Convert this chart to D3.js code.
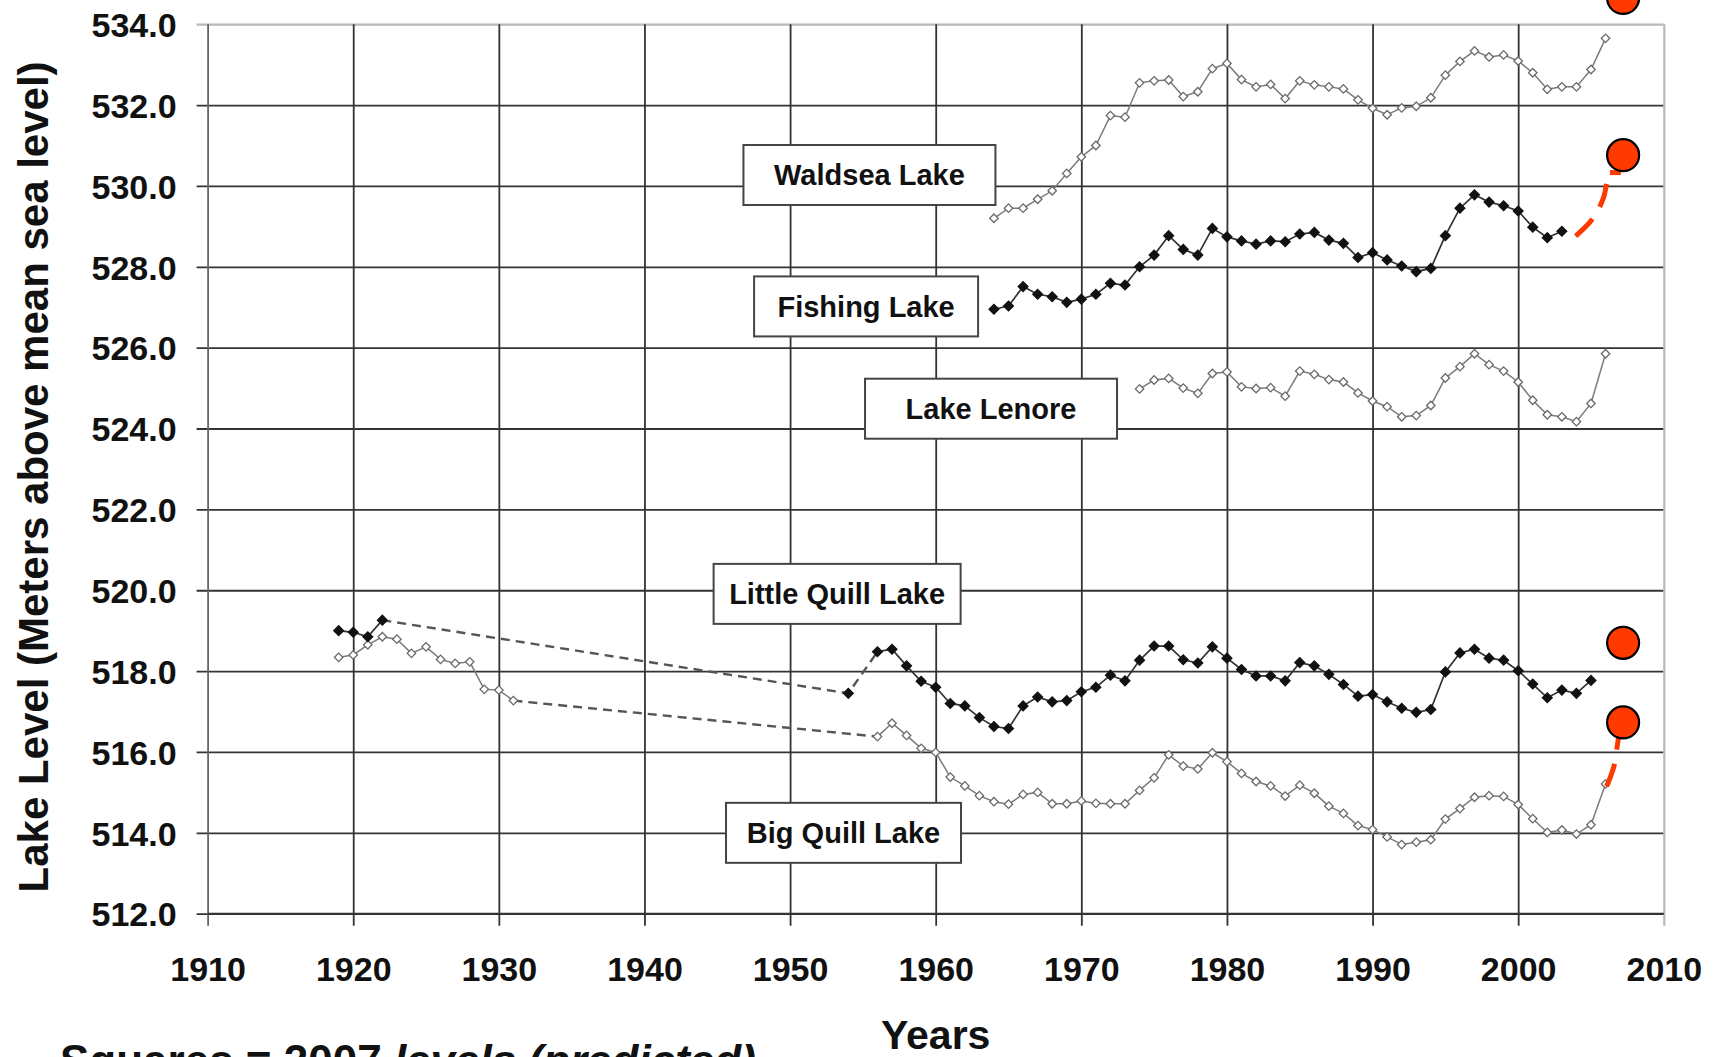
<!DOCTYPE html>
<html>
<head>
<meta charset="utf-8">
<script src="https://cdn.jsdelivr.net/npm/d3@7"></script>
<style>
  body { margin: 0; background: #fff; }
  svg { display: block; font-family: "Liberation Sans", Arial, sans-serif; }
</style>
</head>
<body>
<svg id="chart"></svg>
<script>
// ---- data (lake level, metres above mean sea level) ----
const xTicks = [1910, 1920, 1930, 1940, 1950, 1960, 1970, 1980, 1990, 2000, 2010];
const yTicks = [512, 514, 516, 518, 520, 522, 524, 526, 528, 530, 532, 534];

const waldseaStart = 1964;
const waldseaLevels = [529.2, 529.45, 529.45, 529.67, 529.88, 530.31, 530.72, 531.0, 531.74, 531.7,
  532.55, 532.6, 532.62, 532.21, 532.33, 532.9, 533.03, 532.63, 532.45, 532.51,
  532.16, 532.6, 532.5, 532.45, 532.4, 532.13, 531.92, 531.76, 531.93, 531.97,
  532.18, 532.74, 533.08, 533.34, 533.19, 533.24, 533.09, 532.8, 532.39, 532.45,
  532.45, 532.88, 533.65];

const fishingStart = 1964;
const fishingLevels = [526.95, 527.03, 527.51, 527.32, 527.26, 527.12, 527.2, 527.32, 527.59, 527.55,
  528.0, 528.29, 528.77, 528.43, 528.29, 528.95, 528.74, 528.64, 528.56, 528.64,
  528.62, 528.81, 528.85, 528.66, 528.58, 528.23, 528.35, 528.17, 528.02, 527.88,
  527.96, 528.77, 529.45, 529.78, 529.6, 529.51, 529.38, 528.98, 528.72, 528.88];

const lenoreStart = 1974;
const lenoreLevels = [524.98, 525.2, 525.24, 525.0, 524.87, 525.36, 525.4, 525.03, 524.99, 525.01,
  524.8, 525.42, 525.34, 525.21, 525.15, 524.88, 524.68, 524.54, 524.29, 524.32,
  524.57, 525.25, 525.53, 525.85, 525.58, 525.42, 525.15, 524.7, 524.34, 524.29,
  524.17, 524.62, 525.85];

const littleQuillEarlyStart = 1919;
const littleQuillEarly = [519.0, 518.96, 518.85, 519.26];
const littleQuillGapYear = 1954;
const littleQuillGapLevel = 517.45;
const littleQuillStart = 1956;
const littleQuillLevels = [518.48, 518.54, 518.13, 517.75, 517.6, 517.2, 517.14, 516.85, 516.63, 516.58,
  517.14, 517.36, 517.24, 517.27, 517.49, 517.6, 517.9, 517.76, 518.27, 518.62,
  518.62, 518.28, 518.2, 518.6, 518.32, 518.04, 517.88, 517.88, 517.76, 518.21,
  518.13, 517.92, 517.67, 517.38, 517.42, 517.24, 517.08, 516.98, 517.05, 517.98,
  518.45, 518.54, 518.32, 518.27, 518.01, 517.68, 517.34, 517.53, 517.45, 517.77];

const bigQuillEarlyStart = 1919;
const bigQuillEarly = [518.34, 518.4, 518.65, 518.85, 518.79, 518.44, 518.6, 518.29, 518.19, 518.23,
  517.55, 517.53, 517.27];
const bigQuillStart = 1956;
const bigQuillLevels = [516.38, 516.71, 516.41, 516.09, 515.99, 515.38, 515.16, 514.92, 514.77, 514.71,
  514.95, 515.0, 514.72, 514.72, 514.79, 514.73, 514.72, 514.72, 515.05, 515.36,
  515.93, 515.65, 515.58, 515.98, 515.76, 515.47, 515.27, 515.16, 514.91, 515.18,
  514.98, 514.66, 514.48, 514.18, 514.08, 513.9, 513.71, 513.77, 513.83, 514.34,
  514.6, 514.88, 514.92, 514.9, 514.7, 514.35, 514.01, 514.07, 513.97, 514.2,
  515.21];

// predicted 2007 levels (red dots)
const predictedYear = 2007;
const predictedLakes = ['Waldsea Lake', 'Fishing Lake', 'Little Quill Lake', 'Big Quill Lake'];
const predictedLevels = [534.65, 530.76, 518.7, 516.73];

// red dashed arcs toward the predictions
const fishingArcYears = [2003.95, 2005.1, 2005.85, 2006.15, 2006.3];
const fishingArcLevels = [528.76, 529.18, 529.7, 530.2, 530.33];
const fishingFootYears = [2006.3, 2007.05];
const fishingFootLevels = [530.33, 530.33];
const bigQuillArcYears = [2006.07, 2006.57, 2006.8, 2006.93];
const bigQuillArcLevels = [515.15, 515.64, 516.14, 516.45];

// label boxes (anchor in year / level units)
const labelNames = ['Waldsea Lake', 'Fishing Lake', 'Lake Lenore', 'Little Quill Lake', 'Big Quill Lake'];
const labelYears = [1955.45, 1955.22, 1963.8, 1953.23, 1953.67];
const labelLevels = [530.27, 527.02, 524.49, 519.91, 514.0];

// ---- layout ----
const W = 1722, H = 1057;
const margin = {left: 207.6, right: W - 1663.8, top: 24.2, bottom: H - 913.7};
const plotW = W - margin.left - margin.right;
const plotH = H - margin.top - margin.bottom;
const labelBoxW = [252, 224, 252, 247, 235];
const predictedShift = 3; // dots sit just right of the 2007 line

const svg = d3.select('#chart').attr('width', W).attr('height', H);
svg.append('rect').attr('width', W).attr('height', H).attr('fill', '#fff');

const g = svg.append('g').attr('transform', `translate(${margin.left},${margin.top})`);

const x = d3.scaleLinear().domain([1910, 2010]).range([0, plotW]);
const y = d3.scaleLinear().domain([512, 534]).range([plotH, 0]);

function toPoints(start, levels) {
  return levels.map((v, i) => ({year: start + i, level: v}));
}

// ---- grid / axes ----
let yAxis = d3.axisLeft(y).tickValues(yTicks).tickFormat(d3.format('.1f')).tickSizeOuter(0);
let yAxisG = g.append('g').call(yAxis);
yAxisG.select('.domain').remove();
yAxisG.selectAll('.tick line')
  .attr('x1', -11).attr('x2', plotW)
  .attr('stroke', d => d === 534 ? '#b8b8b8' : '#333')
  .attr('stroke-width', d => d === 534 ? 2.2 : 1.8);
yAxisG.selectAll('.tick text')
  .attr('x', -31).attr('dy', '0.36em')
  .attr('font-size', 34).attr('font-weight', 'bold').attr('fill', '#111')
  .attr('font-family', '"Liberation Sans", Arial, sans-serif');

let xAxis = d3.axisBottom(x).tickValues(xTicks).tickFormat(d3.format('d')).tickSizeOuter(0);
let xAxisG = g.append('g').attr('transform', `translate(0,${plotH})`).call(xAxis);
xAxisG.select('.domain').remove();
xAxisG.selectAll('.tick line')
  .attr('y1', 12).attr('y2', -plotH)
  .attr('stroke', d => d === 2010 ? '#b8b8b8' : (d === 1910 ? '#666' : '#333'))
  .attr('stroke-width', d => d === 2010 ? 2.2 : 1.8);
xAxisG.selectAll('.tick text')
  .attr('y', 67).attr('dy', 0)
  .attr('font-size', 34).attr('font-weight', 'bold').attr('fill', '#111')
  .attr('font-family', '"Liberation Sans", Arial, sans-serif');

// bottom axis line
g.append('line')
  .attr('x1', x(1910)).attr('x2', x(2010))
  .attr('y1', y(512)).attr('y2', y(512))
  .attr('stroke', '#333').attr('stroke-width', 2);

// ---- series ----
const line = d3.line().x(d => x(d.year)).y(d => y(d.level));
const seriesG = g.append('g');

const openStyle = {line: '#7a7a7a', width: 1.5, fill: '#fff', stroke: '#6a6a6a', size: 36};
const filledStyle = {line: '#333', width: 1.7, fill: '#111', stroke: '#111', size: 48};

function drawLine(pts, style, dashed) {
  seriesG.append('path')
    .datum(pts)
    .attr('d', line)
    .attr('fill', 'none')
    .attr('stroke', dashed ? '#555' : style.line)
    .attr('stroke-width', dashed ? 2.4 : style.width)
    .attr('stroke-dasharray', dashed ? '9,6' : null);
}

function drawMarkers(pts, style) {
  seriesG.append('g')
    .selectAll('path')
    .data(pts)
    .enter()
    .append('path')
    .attr('d', d3.symbol(d3.symbolSquare, style.size))
    .attr('transform', d => `translate(${x(d.year)},${y(d.level)}) rotate(45)`)
    .attr('fill', style.fill)
    .attr('stroke', style.stroke)
    .attr('stroke-width', 1.3);
}

// Waldsea
let waldsea = toPoints(waldseaStart, waldseaLevels);
drawLine(waldsea, openStyle);
drawMarkers(waldsea, openStyle);

// Fishing
let fishing = toPoints(fishingStart, fishingLevels);
drawLine(fishing, filledStyle);
drawMarkers(fishing, filledStyle);

// Lenore
let lenore = toPoints(lenoreStart, lenoreLevels);
drawLine(lenore, openStyle);
drawMarkers(lenore, openStyle);

// Little Quill
let lqEarly = toPoints(littleQuillEarlyStart, littleQuillEarly);
let lqGap = {year: littleQuillGapYear, level: littleQuillGapLevel};
let lqMain = toPoints(littleQuillStart, littleQuillLevels);
drawLine(lqEarly, filledStyle);
drawLine([lqEarly[lqEarly.length - 1], lqGap, lqMain[0]], filledStyle, true);
drawLine(lqMain, filledStyle);

// Big Quill
let bqEarly = toPoints(bigQuillEarlyStart, bigQuillEarly);
let bqMain = toPoints(bigQuillStart, bigQuillLevels);
drawLine(bqEarly, openStyle);
drawLine([bqEarly[bqEarly.length - 1], bqMain[0]], openStyle, true);
drawLine(bqMain, openStyle);
drawMarkers(bqEarly.concat(bqMain), openStyle);

drawMarkers(lqEarly.concat([lqGap], lqMain), filledStyle);

// ---- label boxes ----
const labelsG = g.append('g');
labelNames.forEach((name, i) => {
  let lg = labelsG.append('g')
    .attr('transform', `translate(${x(labelYears[i])},${y(labelLevels[i])})`);
  let bw = labelBoxW[i], bh = 60;
  lg.append('rect')
    .attr('x', -bw / 2).attr('y', -bh / 2).attr('width', bw).attr('height', bh)
    .attr('fill', '#fff').attr('stroke', '#444').attr('stroke-width', 2);
  lg.append('text')
    .attr('text-anchor', 'middle')
    .attr('dy', '0.36em')
    .attr('font-size', 29)
    .attr('font-weight', 'bold')
    .attr('fill', '#111')
    .text(name);
});

// ---- predicted 2007 levels ----
const arc = d3.line().x(d => x(d[0])).y(d => y(d[1])).curve(d3.curveCatmullRom.alpha(0.5));
const redG = g.append('g');
function drawArc(years, levels) {
  redG.append('path')
    .datum(years.map((yr, i) => [yr, levels[i]]))
    .attr('d', arc)
    .attr('fill', 'none')
    .attr('stroke', '#ff3a00')
    .attr('stroke-width', 5)
    .attr('stroke-dasharray', '24,14');
}
drawArc(fishingArcYears, fishingArcLevels);
drawArc(fishingFootYears, fishingFootLevels);
drawArc(bigQuillArcYears, bigQuillArcLevels);

redG.selectAll('circle')
  .data(predictedLevels)
  .enter()
  .append('circle')
  .attr('cx', x(predictedYear) + predictedShift)
  .attr('cy', d => y(d))
  .attr('r', 16)
  .attr('fill', '#ff3a00')
  .attr('stroke', '#000')
  .attr('stroke-width', 2.2);

// ---- titles ----
svg.append('text')
  .attr('transform', `translate(33,${margin.top + plotH / 2 + 8}) rotate(-90)`)
  .attr('text-anchor', 'middle')
  .attr('dy', '0.36em')
  .attr('font-size', 42)
  .attr('font-weight', 'bold')
  .attr('fill', '#111')
  .text('Lake Level (Meters above mean sea level)');

svg.append('text')
  .attr('x', margin.left + plotW / 2)
  .attr('y', 1049)
  .attr('text-anchor', 'middle')
  .attr('font-size', 41)
  .attr('font-weight', 'bold')
  .attr('fill', '#111')
  .text('Years');

// note at the very bottom, cut by the page edge as in the source slide
let note = svg.append('text')
  .attr('x', 60)
  .attr('y', 1076)
  .attr('font-size', 44)
  .attr('font-weight', 'bold')
  .attr('fill', '#111');
note.append('tspan').text('Squares = 2007 ');
note.append('tspan').attr('font-style', 'italic').text('levels (predicted)');
</script>
</body>
</html>
